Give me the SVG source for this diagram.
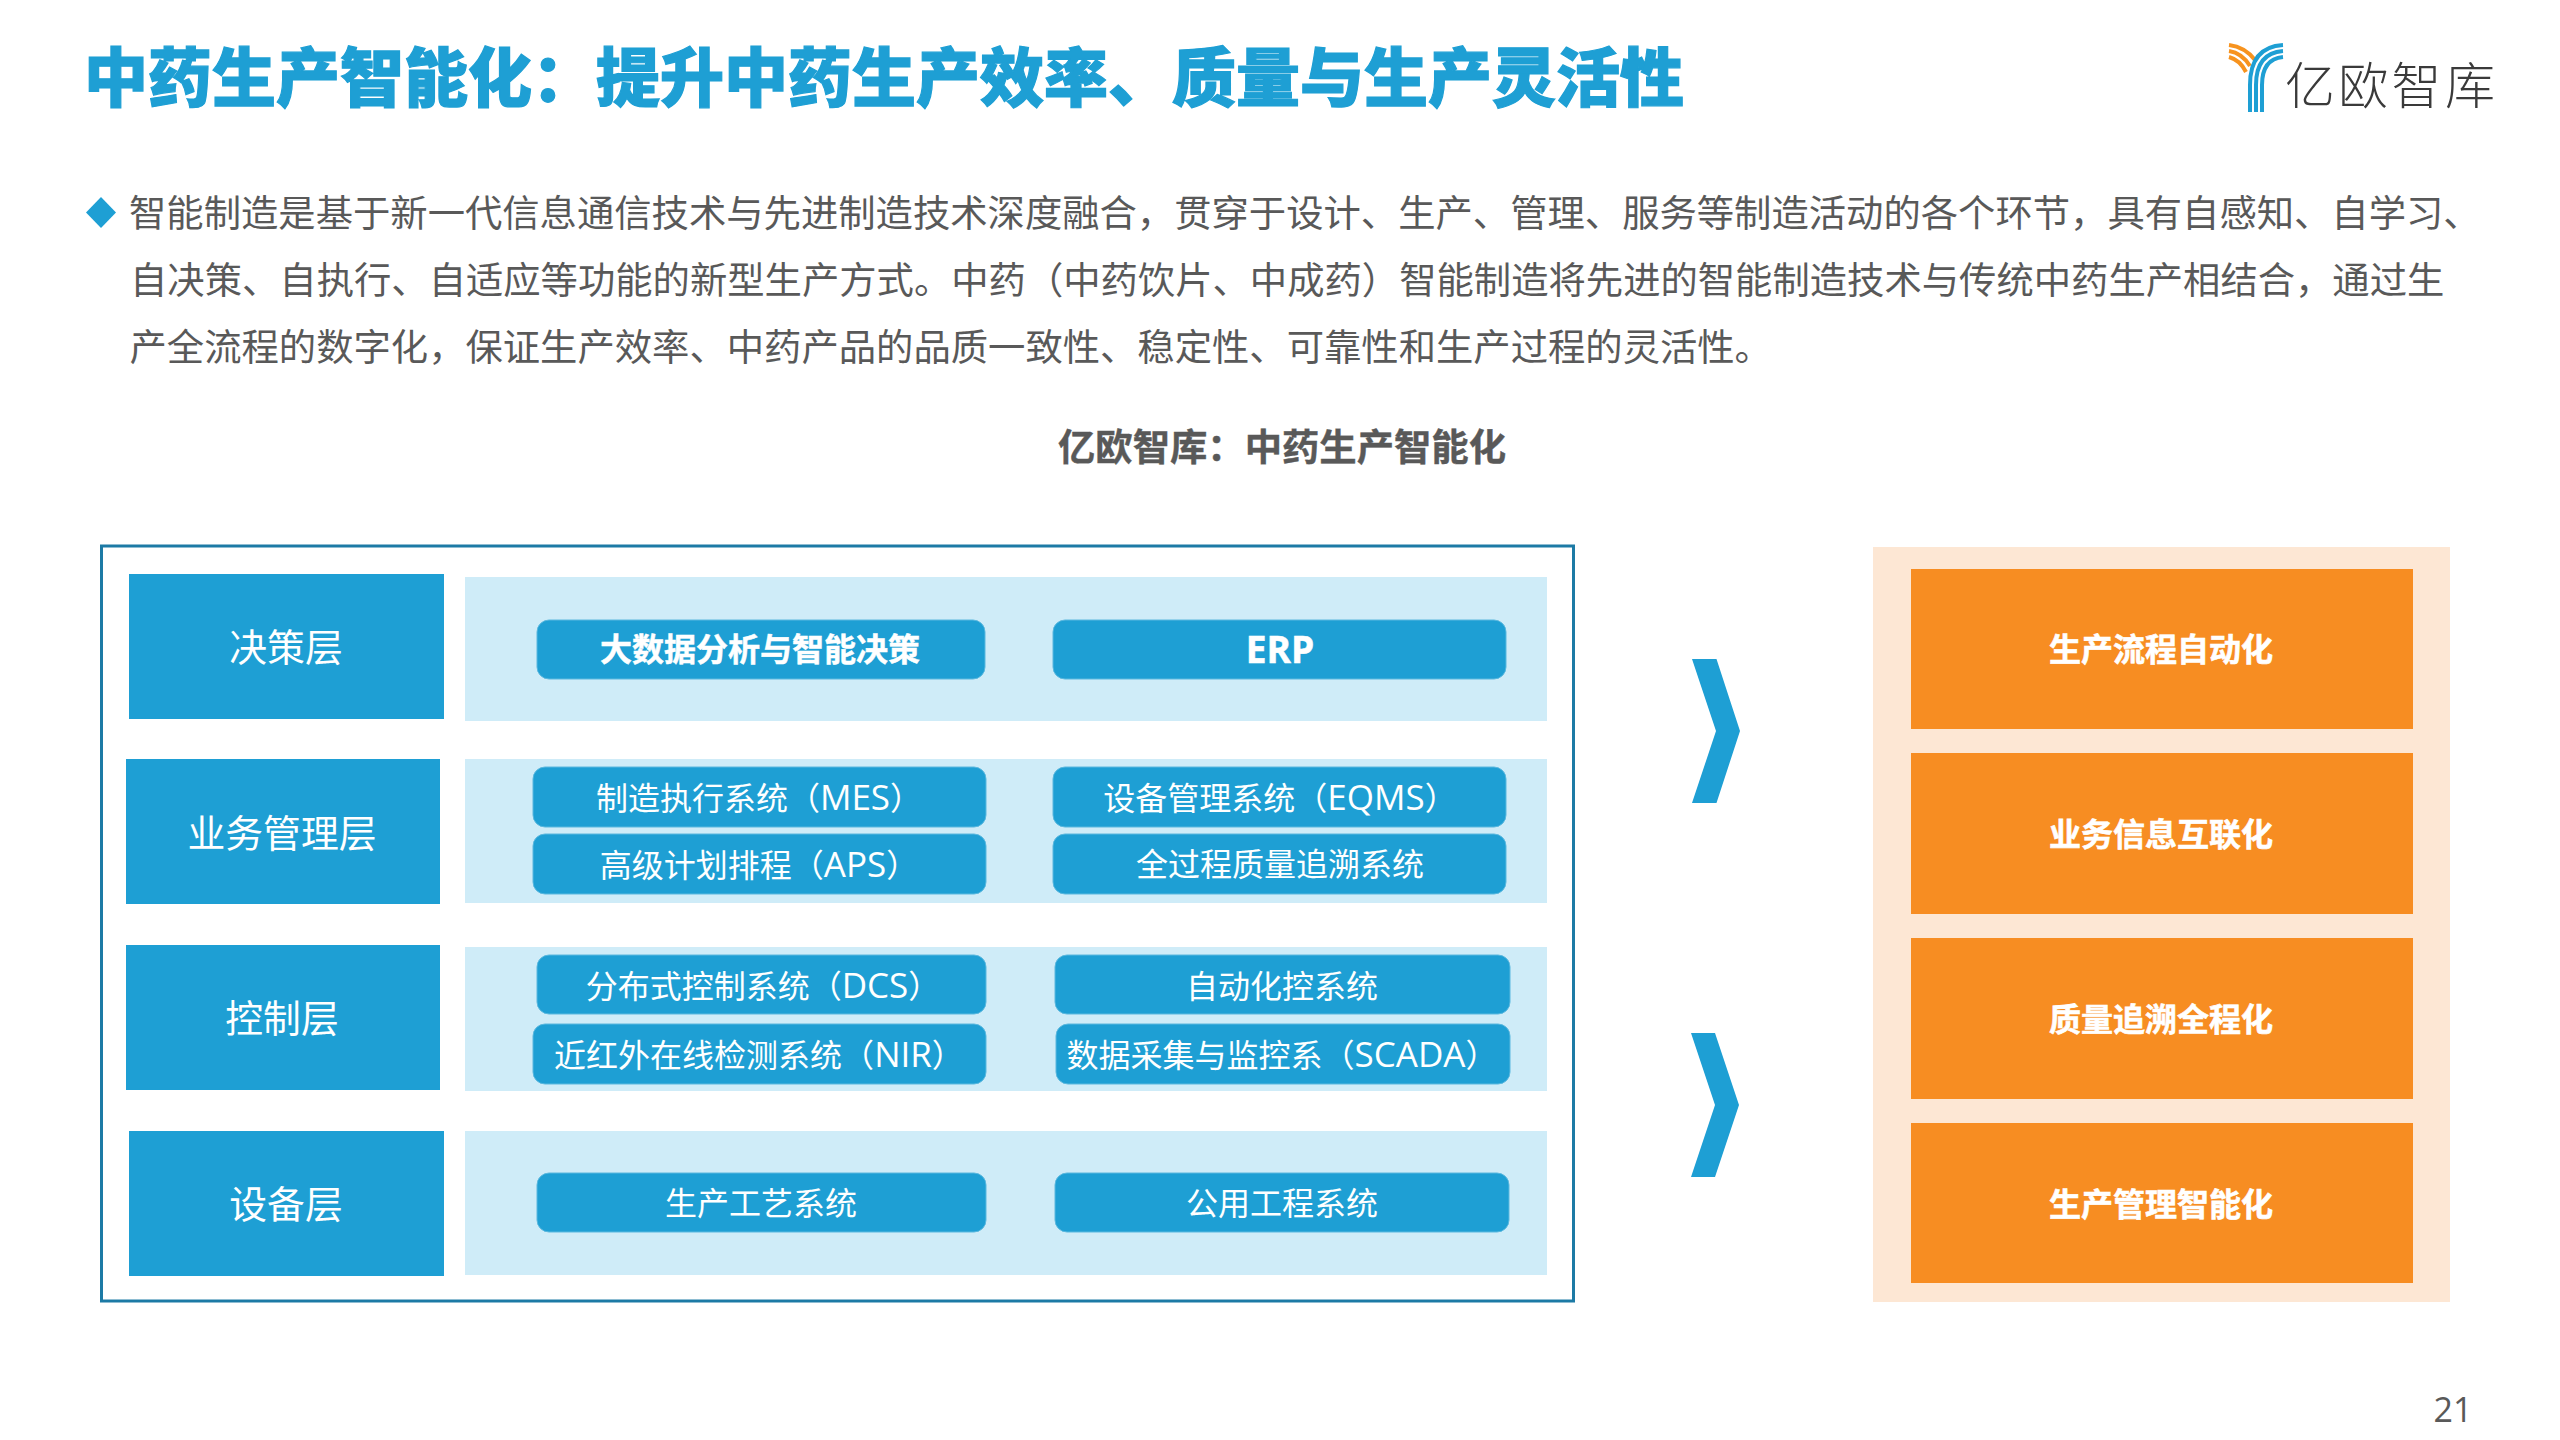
<svg xmlns="http://www.w3.org/2000/svg" width="2560" height="1440" viewBox="0 0 2560 1440">
<style>
text{font-family:"Open Sans","Noto Sans CJK SC",sans-serif}
.title{font-family:"Noto Sans CJK SC",sans-serif;font-size:64px;font-weight:900;fill:#1e9fd4;stroke:#1e9fd4;stroke-width:1.2px}
.body{font-family:"Noto Sans CJK SC",sans-serif;font-size:37.33px;fill:#595959}
.sub{font-family:"Noto Sans CJK SC",sans-serif;font-size:37.33px;font-weight:700;fill:#595959;text-anchor:middle;stroke:#595959;stroke-width:.4px}
.lab{fill:#1e9fd4}
.labt{font-family:"Noto Sans CJK SC",sans-serif;font-size:37.8px;fill:#fff;text-anchor:middle}
.band{fill:#cfecf8}
.pill{fill:#1e9fd4;stroke:#5ab8df;stroke-width:1}
.pt{font-size:32px;fill:#fff;text-anchor:middle}
.pt tspan{font-size:35px}
.ptb{font-size:32px;font-weight:700;fill:#fff;text-anchor:middle;stroke:#fff;stroke-width:.5px}
.or{fill:#f78d22}
.ort{font-family:"Noto Sans CJK SC",sans-serif;font-size:32px;font-weight:700;fill:#fff;text-anchor:middle;stroke:#fff;stroke-width:.6px}
.arrow{fill:#1e9fd4}
.lb{fill:none;stroke:#1e9fd4;stroke-width:4}
.lo{fill:none;stroke:#f7931e;stroke-width:4}
</style>
<rect width="2560" height="1440" fill="#fff"/>
<text class="title" x="84" y="101">中药生产智能化：提升中药生产效率、质量与生产灵活性</text>
<g id="logo">
<path class="lo" d="M2229 45Q2245 47 2255 60M2229 51Q2242 53 2250 66M2229 57Q2240 60 2246 72"/>
<path class="lb" d="M2250 112V85Q2250 47 2283 45M2256 112V85Q2256 53 2283 51M2262 112V85Q2262 59 2283 57"/>
<text x="2285" y="104" style="font-family:'Noto Sans CJK SC',sans-serif;font-size:50px;font-weight:300;fill:#3a3a3a;letter-spacing:3.3px">亿欧智库</text>
</g>
<polygon points="101,197 116,212.5 101,228 86,212.5" fill="#1e9fd4"/>
<text class="body" x="129" y="227">智能制造是基于新一代信息通信技术与先进制造技术深度融合，贯穿于设计、生产、管理、服务等制造活动的各个环节，具有自感知、自学习、</text>
<text class="body" x="130" y="294">自决策、自执行、自适应等功能的新型生产方式。中药（中药饮片、中成药）智能制造将先进的智能制造技术与传统中药生产相结合，通过生</text>
<text class="body" x="129.5" y="361">产全流程的数字化，保证生产效率、中药产品的品质一致性、稳定性、可靠性和生产过程的灵活性。</text>
<text class="sub" x="1282" y="461">亿欧智库：中药生产智能化</text>
<g id="frame"><rect x="101.5" y="546" width="1472" height="755" fill="#fff" stroke="#1c7aa5" stroke-width="3"/></g>
<g id="layer-decision">
<rect class="band" x="465" y="577" width="1082" height="144"/>
<rect class="lab" x="129" y="574" width="315" height="145"/>
<text class="labt" x="286" y="661">决策层</text>
<rect class="pill" x="537" y="620" width="448" height="59" rx="12"/>
<text class="ptb" x="760" y="661" style="font-family:'Noto Sans CJK SC',sans-serif">大数据分析与智能决策</text>
<rect class="pill" x="1053" y="620" width="453" height="59" rx="12"/>
<text class="ptb" x="1280" y="663" style="font-size:37px">ERP</text>
</g>
<g id="layer-business">
<rect class="band" x="465" y="759" width="1082" height="144"/>
<rect class="lab" x="126" y="759" width="314" height="145"/>
<text class="labt" x="282" y="847">业务管理层</text>
<rect class="pill" x="533" y="767" width="453" height="60" rx="12"/>
<text class="pt" x="759" y="810">制造执行系统（<tspan>MES</tspan>）</text>
<rect class="pill" x="1053" y="767" width="453" height="60" rx="12"/>
<text class="pt" x="1280" y="810">设备管理系统（<tspan>EQMS</tspan>）</text>
<rect class="pill" x="533" y="834" width="453" height="60" rx="12"/>
<text class="pt" x="759" y="877">高级计划排程（<tspan>APS</tspan>）</text>
<rect class="pill" x="1053" y="834" width="453" height="60" rx="12"/>
<text class="pt" x="1280" y="876">全过程质量追溯系统</text>
</g>
<g id="layer-control">
<rect class="band" x="465" y="947" width="1082" height="144"/>
<rect class="lab" x="126" y="945" width="314" height="145"/>
<text class="labt" x="282" y="1032">控制层</text>
<rect class="pill" x="537" y="955" width="449" height="59" rx="12"/>
<text class="pt" x="763" y="998">分布式控制系统（<tspan>DCS</tspan>）</text>
<rect class="pill" x="1055" y="955" width="455" height="59" rx="12"/>
<text class="pt" x="1282" y="998">自动化控系统</text>
<rect class="pill" x="533" y="1024" width="453" height="60" rx="12"/>
<text class="pt" x="759" y="1067">近红外在线检测系统（<tspan>NIR</tspan>）</text>
<rect class="pill" x="1056" y="1024" width="454" height="60" rx="12"/>
<text class="pt" x="1282" y="1067">数据采集与监控系（<tspan>SCADA</tspan>）</text>
</g>
<g id="layer-equipment">
<rect class="band" x="465" y="1131" width="1082" height="144"/>
<rect class="lab" x="129" y="1131" width="315" height="145"/>
<text class="labt" x="286" y="1218">设备层</text>
<rect class="pill" x="537" y="1173" width="449" height="59" rx="12"/>
<text class="pt" x="761" y="1215">生产工艺系统</text>
<rect class="pill" x="1055" y="1173" width="454" height="59" rx="12"/>
<text class="pt" x="1282" y="1215">公用工程系统</text>
</g>
<g id="connectors">
<polygon class="arrow" points="1692,659 1716.5,659 1740,731 1716.5,803 1692,803 1716,731"/>
<polygon class="arrow" points="1691,1033 1715,1033 1739,1105 1715,1177 1691,1177 1715,1105"/>
</g>
<g id="outcomes">
<rect x="1873" y="547" width="577" height="755" fill="#fde7d4"/>
<g id="outcome-1"><rect class="or" x="1911" y="569" width="502" height="160"/><text class="ort" x="2161" y="661">生产流程自动化</text></g>
<g id="outcome-2"><rect class="or" x="1911" y="753" width="502" height="161"/><text class="ort" x="2161" y="846">业务信息互联化</text></g>
<g id="outcome-3"><rect class="or" x="1911" y="938" width="502" height="161"/><text class="ort" x="2161" y="1031">质量追溯全程化</text></g>
<g id="outcome-4"><rect class="or" x="1911" y="1123" width="502" height="160"/><text class="ort" x="2161" y="1216">生产管理智能化</text></g>
</g>
<text x="2453" y="1422" text-anchor="middle" style="font-family:'Open Sans',sans-serif;font-size:34px;fill:#595959">21</text>
</svg>
